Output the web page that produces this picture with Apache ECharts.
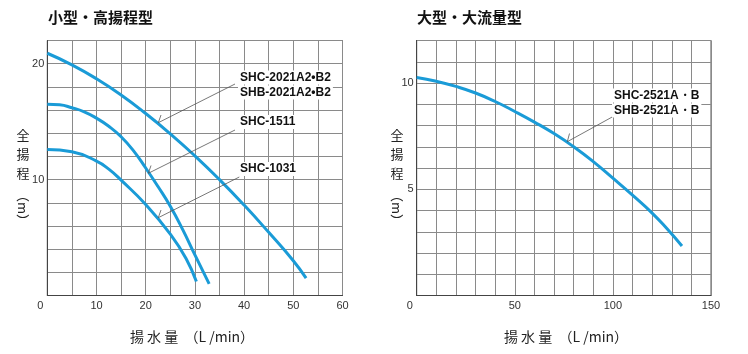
<!DOCTYPE html>
<html>
<head>
<meta charset="utf-8">
<script src="https://cdn.jsdelivr.net/npm/echarts@6/dist/echarts.min.js"></script>
<style>
  html, body { margin: 0; padding: 0; background: #fff; }
  #chart { width: 748px; height: 354px; }
</style>
</head>
<body>
<div id="chart"></div>
<script>
// 小型・高揚程型  (揚水量 L/min, 全揚程 m)
const shc2021 = [[0, 20.9], [5, 19.9], [10, 18.7], [15, 17.3], [20, 15.7], [25, 13.95], [30, 12.05], [35, 10.0], [40, 7.8], [45, 5.45], [50, 3.0], [52.6, 1.5]];
const shc1511 = [[0, 16.5], [2.5, 16.45], [5, 16.2], [7.5, 15.85], [10, 15.3], [12.5, 14.6], [15, 13.7], [17.5, 12.5], [20, 11.0], [22.5, 9.4], [25, 7.7], [27.5, 5.7], [30, 3.5], [32.9, 1.0]];
const shc1031 = [[0, 12.6], [5, 12.4], [10, 11.6], [12.5, 10.9], [15, 9.95], [20, 7.85], [25, 5.3], [28.2, 3.2], [30.3, 1.2]];
// 大型・大流量型
const shc2521 = [[0, 10.26], [10, 10.08], [20, 9.84], [30, 9.53], [40, 9.13], [50, 8.66], [60, 8.16], [70, 7.62], [80, 7.0], [90, 6.3], [100, 5.52], [110, 4.72], [120, 3.88], [127.5, 3.15], [135.2, 2.33]];

const leftXLabels = [0, 10, 20, 30, 40, 50, 60];
const leftYLabels = [10, 20];
const rightXLabels = [0, 50, 100, 150];
const rightYLabels = [5, 10];

const curveColor = '#1a9bd7';
const gridColor = '#8a8a8a';
const jp = '"Noto Sans CJK JP", sans-serif';
const lat = '"Liberation Sans", Arial, sans-serif';

const chart = echarts.init(document.getElementById('chart'));

function xAxisOf(gridIndex, max, interval, labels) {
  return {
    type: 'value', gridIndex, min: 0, max, interval,
    axisLine: { show: true, lineStyle: { color: '#444', width: 1 } },
    axisTick: { show: false },
    splitLine: { show: true, lineStyle: { color: gridColor, width: 1 } },
    axisLabel: {
      margin: 5, color: '#333', fontSize: 11, fontFamily: lat,
      formatter: v => v === 0 ? '{z|0}' : (labels.includes(v) ? String(v) : ''),
      rich: { z: { padding: [0, 14, 0, 0], fontSize: 11, color: '#333', fontFamily: lat } }
    }
  };
}

function yAxisOf(gridIndex, max, interval, labels) {
  return {
    type: 'value', gridIndex, min: 0, max, interval,
    axisLine: { show: true, lineStyle: { color: '#444', width: 1 } },
    axisTick: { show: false },
    splitLine: { show: true, lineStyle: { color: gridColor, width: 1 } },
    axisLabel: {
      margin: 3, color: '#333', fontSize: 11, fontFamily: lat,
      formatter: v => labels.includes(v) ? String(v) : ''
    }
  };
}

function curve(name, data, idx) {
  return {
    name, type: 'line', xAxisIndex: idx, yAxisIndex: idx, data,
    smooth: 0.5, symbol: 'none',
    lineStyle: { color: curveColor, width: 3 }
  };
}

function txt(text, x, y, extra) {
  return {
    type: 'text', x, y, silent: true,
    style: Object.assign({ text, fill: '#111', font: 'bold 12px ' + lat, textVerticalAlign: 'middle' }, extra || {})
  };
}

// model labels sit on a white patch that hides the grid behind them
function label(text, x, y) {
  return {
    type: 'text', x: x - 2, y, silent: true, z: 110,
    style: {
      text, fill: '#111', font: 'bold 12px ' + lat, textVerticalAlign: 'middle',
      backgroundColor: '#fff', padding: [1, 2, 1, 2]
    }
  };
}

function leader(points) {
  return {
    type: 'polyline', silent: true, z: 105,
    shape: { points },
    style: { stroke: '#555', lineWidth: 0.8, fill: null }
  };
}

function yName(x) {
  const st = { font: '13px ' + jp, fill: '#222', textAlign: 'center', textVerticalAlign: 'middle' };
  return [
    { type: 'text', x, y: 135, silent: true, style: Object.assign({ text: '全' }, st) },
    { type: 'text', x, y: 154, silent: true, style: Object.assign({ text: '揚' }, st) },
    { type: 'text', x, y: 173, silent: true, style: Object.assign({ text: '程' }, st) },
    { type: 'text', x, y: 208, rotation: -Math.PI / 2, silent: true, style: Object.assign({ text: '（m）' }, st) }
  ];
}

const xNameStyle = { font: '14px ' + jp, fill: '#222', textAlign: 'center', textVerticalAlign: 'middle' };

const option = {
  animation: false,
  grid: [
    { left: 47.3, right: 405.5, top: 40.5, bottom: 58.5, show: true, borderColor: '#555', borderWidth: 1 },
    { left: 416.7, right: 37, top: 40.5, bottom: 58.5, show: true, borderColor: '#555', borderWidth: 1 }
  ],
  xAxis: [xAxisOf(0, 60, 5, leftXLabels), xAxisOf(1, 150, 10, rightXLabels)],
  yAxis: [yAxisOf(0, 22, 2, leftYLabels), yAxisOf(1, 12, 1, rightYLabels)],
  series: [
    curve('SHC-2021A2・B2', shc2021, 0),
    curve('SHC-1511', shc1511, 0),
    curve('SHC-1031', shc1031, 0),
    curve('SHC-2521A・B', shc2521, 1)
  ],
  graphic: [
    txt('小型・高揚程型', 48, 17, { font: 'bold 15px ' + jp }),
    txt('大型・大流量型', 417, 17, { font: 'bold 15px ' + jp }),
    ...yName(23),
    ...yName(397),
    { type: 'text', x: 192, y: 337, silent: true, style: Object.assign({ text: '揚 水 量  （L /min）' }, xNameStyle) },
    { type: 'text', x: 566, y: 337, silent: true, style: Object.assign({ text: '揚 水 量  （L /min）' }, xNameStyle) },

    leader([[235, 84], [158.3, 122.7], [161, 115]]),
    leader([[235, 130], [148.3, 173.3], [151, 165.5]]),
    leader([[239.3, 177], [158.3, 217.7], [161, 210]]),
    leader([[614, 116], [567.3, 141.7], [569.5, 133.5]]),

    label('SHC-2021A2•B2', 240, 77.5),
    label('SHB-2021A2•B2', 240, 92.5),
    label('SHC-1511', 240, 122),
    label('SHC-1031', 240, 169),
    label('SHC-2521A・B', 614, 95.5),
    label('SHB-2521A・B', 614, 110.5)
  ]
};

chart.setOption(option);
</script>
</body>
</html>
